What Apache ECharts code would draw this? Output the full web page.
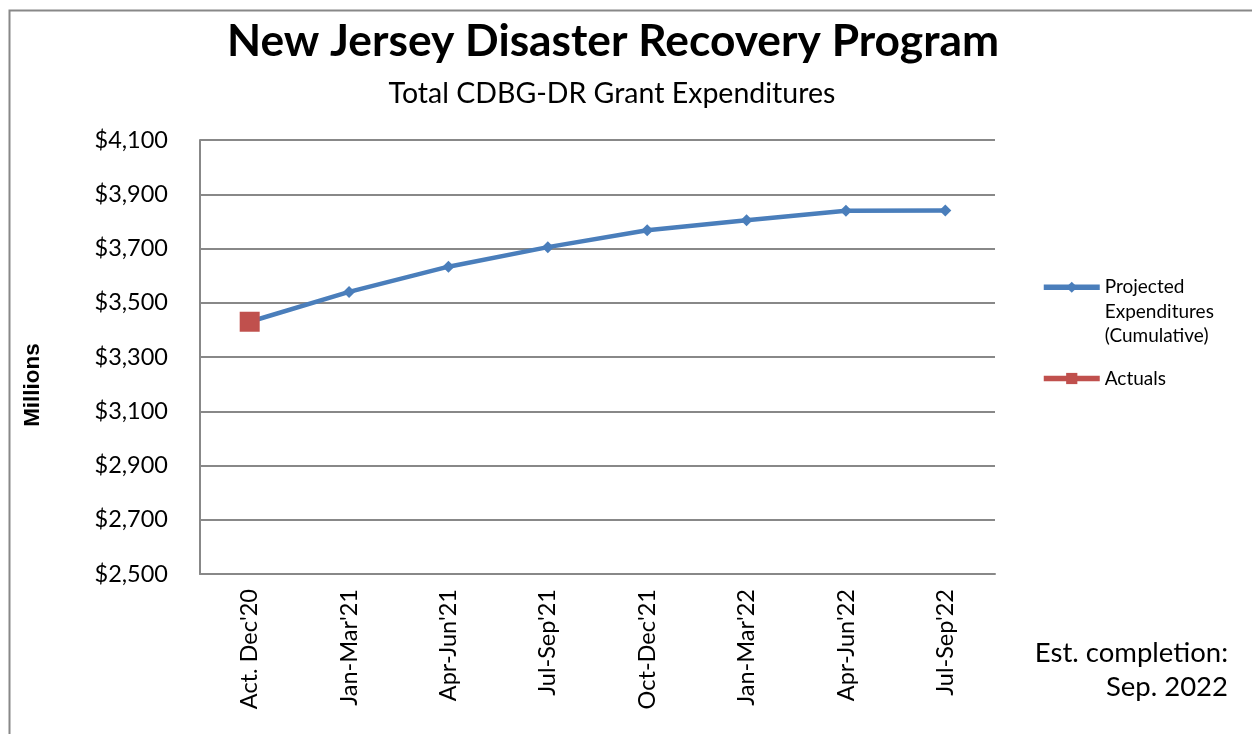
<!DOCTYPE html>
<html>
<head>
<meta charset="utf-8">
<script src="https://cdn.jsdelivr.net/npm/echarts@6/dist/echarts.min.js"></script>
<style>
html,body{margin:0;padding:0;background:#fff;}
#chart{width:1252px;height:734px;}
</style>
</head>
<body>
<div id="chart"></div>
<script>
var categories = ["Act. Dec'20", "Jan-Mar'21", "Apr-Jun'21", "Jul-Sep'21", "Oct-Dec'21", "Jan-Mar'22", "Apr-Jun'22", "Jul-Sep'22"];
var projected = [3430, 3540, 3633, 3705, 3767, 3804, 3839, 3840];
var actuals = [3430, null, null, null, null, null, null, null];
var yTicks = [2500, 2700, 2900, 3100, 3300, 3500, 3700, 3900, 4100];
var titleText = "New Jersey Disaster Recovery Program";
var subtitleText = "Total CDBG-DR Grant Expenditures";
var projName = "Projected Expenditures (Cumulative)";
var actName = "Actuals";

var FONT = "Lato, 'Open Sans', sans-serif";
var chart = echarts.init(document.getElementById('chart'), null, {renderer: 'canvas'});

function fmtMoney(v) {
  return '$' + String(v).replace(/\B(?=(\d{3})+(?!\d))/g, ',');
}

var option = {
  backgroundColor: '#fff',
  animation: false,
  title: [
    {
      text: titleText,
      left: 608,
      top: 15,
      textAlign: 'center',
      textStyle: {fontFamily: FONT, fontWeight: 'bold', fontSize: 44.3, color: '#000'}
    },
    {
      text: subtitleText,
      left: 607,
      top: 74,
      textAlign: 'center',
      textStyle: {fontFamily: FONT, fontWeight: 'normal', fontSize: 28.5, color: '#000'}
    }
  ],
  legend: [
    {
      data: [projName],
      orient: 'vertical',
      left: 1036,
      top: 221,
      itemWidth: 56,
      itemHeight: 14,
      lineStyle: {width: 5.5},
      formatter: function () { return '\n\nProjected\nExpenditures\n(Cumulative)'; },
      textStyle: {fontFamily: FONT, fontSize: 19, color: '#000', lineHeight: 24.5}
    },
    {
      data: [actName],
      orient: 'vertical',
      left: 1036,
      top: 364,
      itemWidth: 56,
      itemHeight: 14,
      lineStyle: {width: 5.5},
      textStyle: {fontFamily: FONT, fontSize: 19, color: '#000'}
    }
  ],
  grid: {left: 200, top: 140, width: 795, height: 434, containLabel: false},
  xAxis: {
    type: 'category',
    data: categories,
    boundaryGap: true,
    axisLine: {show: true, lineStyle: {color: '#888', width: 2}},
    axisTick: {show: false},
    axisLabel: {rotate: 90, margin: 15, fontFamily: FONT, fontSize: 23.5, color: '#000', interval: 0}
  },
  yAxis: {
    type: 'value',
    min: yTicks[0],
    max: yTicks[yTicks.length - 1],
    interval: yTicks[1] - yTicks[0],
    axisLine: {show: true, lineStyle: {color: '#888', width: 2}},
    axisTick: {show: false},
    axisLabel: {margin: 32, fontFamily: FONT, fontSize: 23.5, color: '#000', formatter: fmtMoney},
    splitLine: {show: true, lineStyle: {color: '#888', width: 2}}
  },
  series: [
    {
      name: projName,
      type: 'line',
      data: projected,
      symbol: 'diamond',
      symbolSize: 12,
      showAllSymbol: true,
      itemStyle: {color: '#4A7EBB'},
      lineStyle: {color: '#4A7EBB', width: 4.5},
      z: 2
    },
    {
      name: actName,
      type: 'line',
      data: actuals,
      symbol: 'rect',
      symbolSize: 20,
      itemStyle: {color: '#C0504D'},
      lineStyle: {color: '#C0504D', width: 4.5},
      z: 3
    }
  ],
  graphic: [
    {
      type: 'rect',
      left: 7, top: 8,
      shape: {x: 0, y: 0, width: 1400, height: 900},
      style: {fill: 'none', stroke: '#888', lineWidth: 2},
      silent: true
    },
    {
      type: 'text',
      x: 33, y: 385,
      rotation: Math.PI / 2,
      style: {text: 'Millions', align: 'center', verticalAlign: 'middle', fontFamily: "'Liberation Sans', Arial, sans-serif", fontWeight: 'bold', fontSize: 22.5, fill: '#000'}
    },
    {
      type: 'text',
      x: 1228, y: 636,
      style: {text: 'Est. completion:\nSep. 2022', align: 'right', fontFamily: FONT, fontSize: 27.5, lineHeight: 34, fill: '#000'}
    }
  ]
};
chart.setOption(option);
</script>
</body>
</html>
